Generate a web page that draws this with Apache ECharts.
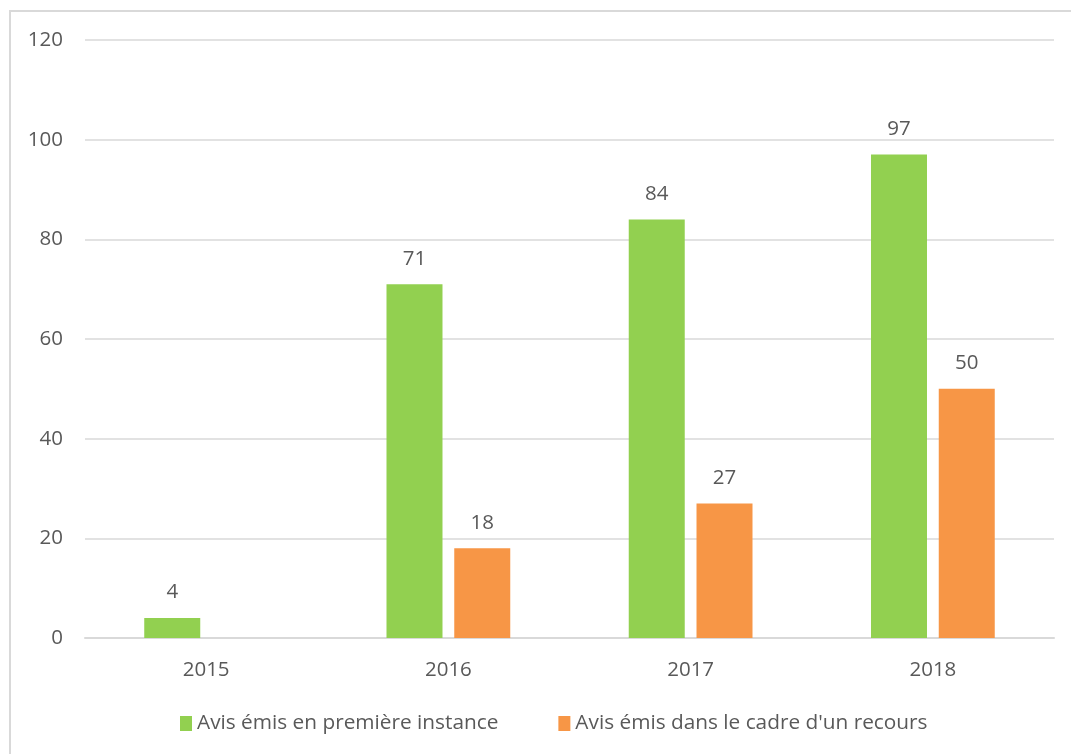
<!DOCTYPE html>
<html><head><meta charset="utf-8">
<script src="https://cdn.jsdelivr.net/npm/echarts@6/dist/echarts.min.js"></script>
<style>html,body{margin:0;padding:0;background:#fff;}#c{width:1071px;height:754px;}
#frame{position:absolute;left:9px;top:10px;width:1070px;height:750px;border:2px solid #d9d9d9;box-sizing:border-box;pointer-events:none;}</style>
</head><body><div id="c"></div><div id="frame"></div>
<script>
const categories = ['2015','2016','2017','2018'];
const seriesNames = ['Avis émis en première instance', "Avis émis dans le cadre d'un recours"];
const premiereInstance = [4, 71, 84, 97];
const recours = [null, 18, 27, 50];
const yTicks = {min: 0, max: 120, interval: 20};

const font = '"Open Sans", sans-serif';
const txt = '#595959';
const chart = echarts.init(document.getElementById('c'));
chart.setOption({
  animation: false,
  grid: {left: 85, right: 17, top: 40, bottom: 116},
  legend: {
    top: 708, left: 175, itemWidth: 12, itemHeight: 15, itemGap: 60,
    icon: 'rect',
    textStyle: {color: txt, fontSize: 20.8, fontFamily: font, padding: [0,0,0,0]},
    data: seriesNames
  },
  xAxis: {
    type: 'category', data: categories,
    axisLine: {lineStyle: {color: '#d9d9d9', width: 2}},
    axisTick: {show: false},
    axisLabel: {color: txt, fontSize: 20.5, fontFamily: font, margin: 22}
  },
  yAxis: {
    type: 'value', min: yTicks.min, max: yTicks.max, interval: yTicks.interval,
    axisLine: {show: false}, axisTick: {show: false},
    splitLine: {lineStyle: {color: '#d9d9d9', width: 1.5}},
    axisLabel: {color: txt, fontSize: 20.5, fontFamily: font, margin: 22}
  },
  series: [
    {name: seriesNames[0], type: 'bar', data: premiereInstance, barWidth: 56, barGap: '21%',
     itemStyle: {color: '#92D050'},
     label: {show: true, position: 'top', distance: 15, color: txt, fontSize: 20.5, fontFamily: font}},
    {name: seriesNames[1], type: 'bar', data: recours, barWidth: 56,
     itemStyle: {color: '#F79646'},
     label: {show: true, position: 'top', distance: 15, color: txt, fontSize: 20.5, fontFamily: font}}
  ]
});
</script></body></html>
